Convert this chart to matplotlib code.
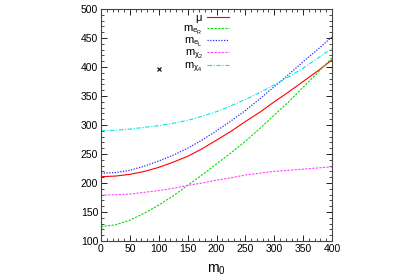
import numpy as np
import matplotlib
matplotlib.use("Agg")
import matplotlib.pyplot as plt
from matplotlib.ticker import MultipleLocator

plt.rcParams['font.family'] = ['Liberation Sans', 'DejaVu Sans']
plt.rcParams['mathtext.fontset'] = 'custom'
plt.rcParams['mathtext.rm'] = 'Liberation Sans'
plt.rcParams['mathtext.it'] = 'Liberation Sans'
plt.rcParams['mathtext.default'] = 'regular'

# --- data ---
m0 = [0, 25, 50, 75, 100, 125, 150, 175, 200, 225, 250, 275, 300, 325, 350, 375, 400]
mu = [211, 212, 215, 220, 227, 236, 246, 259, 274, 289, 306, 322, 340, 357, 375, 393, 412]
m_eR = [125, 128, 136, 148, 162, 178, 196, 214, 233, 252, 272, 294, 317, 340, 365, 390, 416]
m_eL = [217, 218, 222, 229, 238, 248, 260, 274, 290, 307, 325, 345, 366, 387, 409, 430, 452]
m_chi2 = [179, 180, 181, 184, 187, 191, 196, 200, 205, 209, 214, 217, 220, 222, 224, 226, 228]
m_chi4 = [290, 291, 293, 296, 299, 303, 308, 315, 323, 333, 344, 356, 369, 383, 398, 415, 432]
point_x = [100]
point_y = [397]

labels = [r'$\mu$', r'$m_{e_R}$', r'$m_{e_L}$', r'$m_{χ_2}$', r'$m_{χ_4}$']

fig = plt.figure(figsize=(4.0, 2.8), dpi=100)
ax = fig.add_axes([0.2525, 0.139, 0.5775, 0.829])

ax.plot(m0, mu, color='#ff0000', lw=0.8, ls='-', label=labels[0])
ax.plot(m0, m_eR, color='#00e000', lw=0.8, ls=(0, (2, 1.2)), label=labels[1])
ax.plot(m0, m_eL, color='#2a2aff', lw=0.9, ls=(0, (1, 1.2)), label=labels[2])
ax.plot(m0, m_chi2, color='#ff44ff', lw=0.8, ls=(0, (2, 1.2)), label=labels[3])
ax.plot(m0, m_chi4, color='#00e8e8', lw=0.8, ls=(0, (4, 1.5, 1, 1.5)), label=labels[4])
ax.plot(point_x, point_y, 'x', color='black', ms=3, mew=0.8)

ax.set_xlim(0, 400)
ax.set_ylim(100, 500)
ax.xaxis.set_major_locator(MultipleLocator(50))
ax.xaxis.set_minor_locator(MultipleLocator(10))
ax.yaxis.set_major_locator(MultipleLocator(50))
ax.yaxis.set_minor_locator(MultipleLocator(10))
ax.tick_params(which='both', direction='in', top=True, right=True, labelsize=7.5, pad=2)
ax.tick_params(which='major', length=4, width=0.6)
ax.tick_params(which='minor', length=2, width=0.5)
for s in ax.spines.values():
    s.set_linewidth(0.8)
    s.set_color('#444444')

ax.set_xlabel(r'$m_0$', fontsize=10, labelpad=6)

ax.legend(loc='upper right', bbox_to_anchor=(0.585, 1.01), frameon=False, markerfirst=False,
          fontsize=8, handlelength=2.0, handletextpad=0.4, labelspacing=-0.12,
          borderaxespad=0.2)

fig.savefig('out.png', dpi=100)
